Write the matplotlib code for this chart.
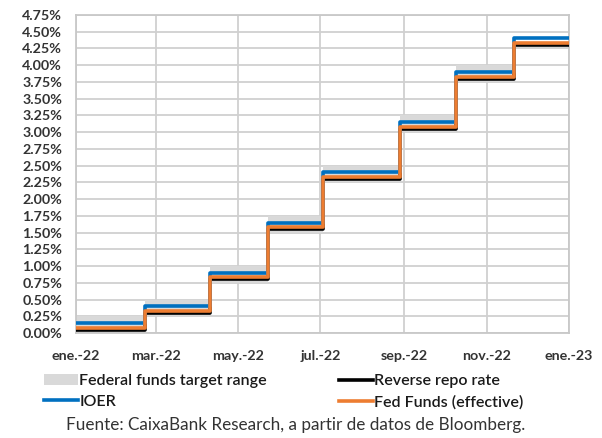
import matplotlib
matplotlib.use("Agg")
import matplotlib.pyplot as plt
from matplotlib.lines import Line2D
from matplotlib.patches import Patch
import numpy as np
import pandas as pd

plt.rcParams['font.family'] = ['Lato', 'DejaVu Sans']

# Fechas de cada escalón (inicio de serie + subidas) y niveles en %
step_dates = ['2022-01-01', '2022-02-21', '2022-04-10', '2022-05-23',
              '2022-07-03', '2022-08-29', '2022-10-09', '2022-11-21']
end_date = '2023-01-01'
target_low = [0.00, 0.25, 0.75, 1.50, 2.25, 3.00, 3.75, 4.25]
target_high = [0.25, 0.50, 1.00, 1.75, 2.50, 3.25, 4.00, 4.50]
ioer = [0.15, 0.40, 0.90, 1.65, 2.40, 3.15, 3.90, 4.40]
reverse_repo = [0.05, 0.30, 0.80, 1.55, 2.30, 3.05, 3.80, 4.30]
fed_funds_eff = [0.08, 0.33, 0.83, 1.58, 2.33, 3.08, 3.83, 4.33]

tick_dates = ['2022-01-01', '2022-03-01', '2022-05-01', '2022-07-01',
              '2022-09-01', '2022-11-01', '2023-01-01']
tick_labels = ['ene.-22', 'mar.-22', 'may.-22', 'jul.-22',
               'sep.-22', 'nov.-22', 'ene.-23']


def extend(vals):
    # repite el último valor hasta el final del eje
    return list(vals) + [vals[-1]]


steps = pd.to_datetime(step_dates)
x = pd.to_datetime(step_dates + [end_date])

fig = plt.figure(figsize=(6.02, 4.38), dpi=100)
ax = fig.add_axes([76 / 602, 1 - 333 / 438, 493 / 602, 318 / 438])

# el rango objetivo acaba en la última subida
ax.fill_between(steps, target_low, target_high, step='post',
                color='#d9d9d9', lw=0, zorder=2)
ax.step(x, extend(reverse_repo), where='post', color='#000000', lw=2.6, zorder=3)
ax.step(x, extend(ioer), where='post', color='#0070c0', lw=2.6, zorder=4)
ax.step(x, extend(fed_funds_eff), where='post', color='#ed7d31', lw=2.6, zorder=5)

ax.set_xlim(pd.Timestamp('2022-01-01'), pd.Timestamp(end_date))
ax.set_ylim(0, 4.75)
yt = np.arange(0, 4.76, 0.25)
ax.set_yticks(yt)
ax.set_yticklabels([f'{v:.2f}%' for v in yt])
ax.set_xticks(pd.to_datetime(tick_dates))
ax.set_xticklabels(tick_labels)

ax.grid(True, color='#d0d0d0', lw=1.3, zorder=0)
ax.set_axisbelow(True)
for s in ax.spines.values():
    s.set_color('#c8c8c8')
    s.set_linewidth(1.3)
ax.tick_params(length=0, labelsize=10.3, labelcolor='#333333')
ax.tick_params(axis='y', pad=10)
ax.tick_params(axis='x', pad=12)
for lab in ax.get_xticklabels() + ax.get_yticklabels():
    lab.set_fontweight('bold')

# leyenda en dos bloques
leg_kw = dict(loc='upper left', frameon=False, borderpad=0, borderaxespad=0,
              handlelength=2.1, handletextpad=0.1, labelspacing=0.42,
              prop={'size': 11.5, 'weight': 'semibold'})
leg1 = fig.legend([Patch(facecolor='#d9d9d9', edgecolor='none'),
                   Line2D([], [], color='#0070c0', lw=2.6)],
                  ['Federal funds target range', 'IOER'],
                  bbox_to_anchor=(44 / 602, 1 - 374 / 438), **leg_kw)
leg2 = fig.legend([Line2D([], [], color='#000000', lw=2.6),
                   Line2D([], [], color='#ed7d31', lw=2.6)],
                  ['Reverse repo rate', 'Fed Funds (effective)'],
                  bbox_to_anchor=(339 / 602, 1 - 374 / 438), **leg_kw)
for leg in (leg1, leg2):
    for t in leg.get_texts():
        t.set_color('#1a1a1a')

fig.text(296 / 602, 1 - 425 / 438,
         'Fuente: CaixaBank Research, a partir de datos de Bloomberg.',
         ha='center', va='center', fontsize=12.3, color='#333333')

fig.savefig('out.png', dpi=100)
